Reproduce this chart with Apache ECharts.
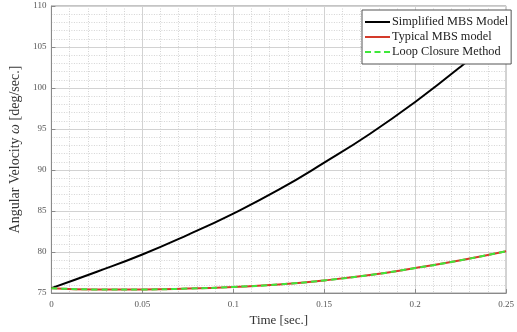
<!DOCTYPE html>
<html>
<head>
<meta charset="utf-8">
<script src="https://cdn.jsdelivr.net/npm/echarts@6/dist/echarts.min.js"></script>
<style>
  html, body { margin: 0; padding: 0; background: #fff; }
  #chart_show { width: 517px; height: 332px; }
</style>
</head>
<body>
<div id="chart_show"></div>
<script>
// 时间 (sec.)
const timeValues = [0, 0.025, 0.05, 0.075, 0.1, 0.125, 0.15, 0.175, 0.2, 0.225, 0.25];
// 角速度 (deg/sec.)
const simplifiedMbs = [75.6, 77.6, 79.7, 82.1, 84.7, 87.6, 90.9, 94.4, 98.3, 102.6, 107.3];
const typicalMbs = [75.6, 75.45, 75.45, 75.55, 75.75, 76.05, 76.55, 77.2, 78.05, 79.0, 80.1];
const loopClosure = [75.6, 75.45, 75.45, 75.55, 75.75, 76.05, 76.55, 77.2, 78.05, 79.0, 80.1];

const xTicks = [0, 0.05, 0.1, 0.15, 0.2, 0.25];
const yTicks = [75, 80, 85, 90, 95, 100, 105, 110];

function pairs(ys) {
    let arr = [];
    for (let i = 0; i < timeValues.length; i++) {
        arr.push([timeValues[i], ys[i]]);
    }
    return arr;
}

const serif = 'Liberation Serif';
// 图例图标: 实线 / 虚线
const solidIcon = 'path://M0,0h25v2h-25z';
const dashIcon = 'path://M0,0h6v2h-6z M9.5,0h6v2h-6z M19,0h6v2h-6z';

let myChart = echarts.init(document.getElementById('chart_show'));

let option = {
    animation: false,
    backgroundColor: '#fff',
    textStyle: { fontFamily: serif },
    grid: {
        left: 44, right: 5, top: 6, bottom: 31,
        show: true,
        borderColor: '#8a8a8a',
        borderWidth: 1
    },
    legend: {
        orient: 'vertical',
        left: 362,
        top: 10,
        itemWidth: 25,
        itemHeight: 10,
        itemGap: 3,
        padding: [6, 3, 6, 3],
        backgroundColor: '#fff',
        borderColor: '#555',
        borderWidth: 1,
        textStyle: { fontFamily: serif, fontSize: 12.3, color: '#222', padding: [0, 0, 0, -3] },
        data: [
            { name: 'Simplified MBS Model', icon: solidIcon },
            { name: 'Typical MBS model', icon: solidIcon },
            { name: 'Loop Closure Method', icon: dashIcon }
        ]
    },
    xAxis: {
        type: 'value',
        min: 0,
        max: 0.25,
        interval: 0.05,
        name: 'Time [sec.]',
        nameLocation: 'middle',
        nameGap: 17,
        nameTextStyle: { fontFamily: serif, fontSize: 13, color: '#333' },
        axisLine: { show: true, lineStyle: { color: '#8a8a8a' } },
        axisTick: { show: true, inside: true, length: 4, lineStyle: { color: '#8a8a8a' } },
        minorTick: { show: false, splitNumber: 5 },
        axisLabel: {
            fontFamily: serif, fontSize: 9, color: '#555', margin: 7,
            formatter: function (v) {
                return xTicks.indexOf(Math.round(v * 100) / 100) >= 0 ? String(Math.round(v * 100) / 100) : '';
            }
        },
        splitLine: { show: true, lineStyle: { color: '#d2d2d2', width: 1 } },
        minorSplitLine: { show: true, lineStyle: { color: '#d4d4d4', type: [1, 1.5], width: 1 } }
    },
    yAxis: {
        type: 'value',
        min: 75,
        max: 110,
        interval: 5,
        name: 'Angular Velocity {i|ω} [deg/sec.]',
        nameLocation: 'middle',
        nameGap: 20,
        nameTextStyle: {
            fontFamily: serif, fontSize: 14, color: '#333',
            rich: { i: { fontFamily: serif, fontSize: 14, fontStyle: 'italic', color: '#333' } }
        },
        axisLine: { show: true, lineStyle: { color: '#8a8a8a' } },
        axisTick: { show: true, inside: true, length: 4, lineStyle: { color: '#8a8a8a' } },
        minorTick: { show: false, splitNumber: 5 },
        axisLabel: {
            fontFamily: serif, fontSize: 9, color: '#555', margin: 5,
            formatter: function (v) {
                return yTicks.indexOf(v) >= 0 ? String(v) : '';
            }
        },
        splitLine: { show: true, lineStyle: { color: '#d2d2d2', width: 1 } },
        minorSplitLine: { show: true, lineStyle: { color: '#d4d4d4', type: [1, 1.5], width: 1 } }
    },
    series: [{
            name: 'Simplified MBS Model',
            type: 'line',
            smooth: true,
            symbol: 'none',
            lineStyle: { color: '#000', width: 2 },
            itemStyle: { color: '#000' },
            data: pairs(simplifiedMbs)
        },
        {
            name: 'Typical MBS model',
            type: 'line',
            smooth: true,
            symbol: 'none',
            lineStyle: { color: '#d43a2a', width: 2 },
            itemStyle: { color: '#d43a2a' },
            data: pairs(typicalMbs)
        },
        {
            name: 'Loop Closure Method',
            type: 'line',
            smooth: true,
            symbol: 'none',
            lineStyle: { color: '#3ee83a', width: 2, type: [6, 4] },
            itemStyle: { color: '#3ee83a' },
            data: pairs(loopClosure)
        }
    ]
};
myChart.setOption(option);
</script>
</body>
</html>
